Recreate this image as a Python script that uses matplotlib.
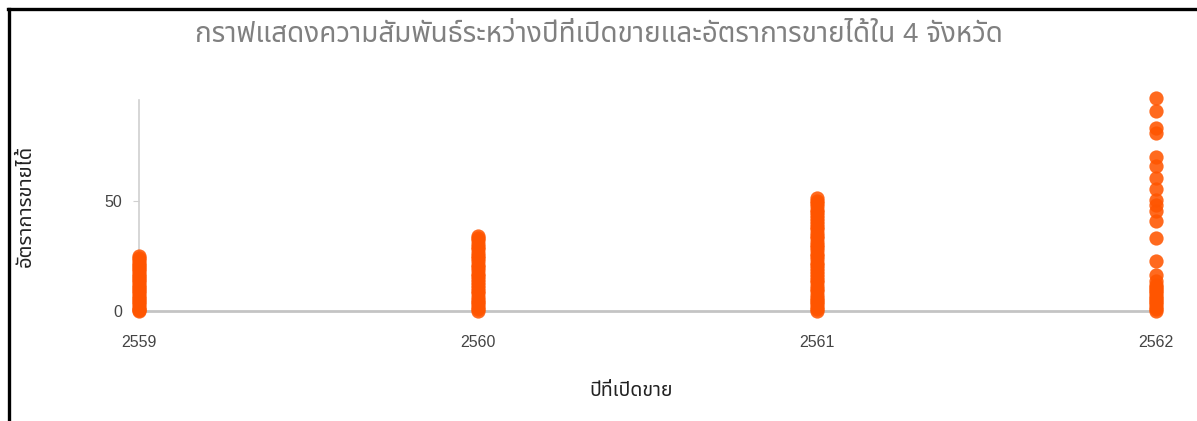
import matplotlib
matplotlib.use('Agg')
import matplotlib.pyplot as plt
from matplotlib.lines import Line2D

# Thai text needs a Thai font; Liberation Sans (Arial-like) for the digits
plt.rcParams['font.family'] = ['Liberation Sans', 'Noto Sans Thai', 'Anuphan', 'DejaVu Sans']

years = [2559, 2560, 2561, 2562]
rate_2559 = [0, 0.5, 1, 2, 3, 4, 5, 6, 7, 8, 9, 10, 11, 12, 13, 14, 15, 16, 17, 18, 19, 20, 21, 22, 23, 24, 25]
rate_2560 = [0, 1, 2, 3, 4, 5, 6.5, 8, 9, 10.5, 12, 13, 14.5, 16, 17, 18.5, 20, 21, 22.5, 24, 25,
             26.5, 28, 29, 30.5, 32, 33, 34]
rate_2561 = [0, 1, 2, 3, 4, 5, 6, 7.5, 9, 10, 11.5, 13, 14, 15.5, 17, 18, 19.5, 21, 22, 23.5, 25, 26,
             27.5, 29, 30, 31.5, 33, 34, 35.5, 37, 38, 39.5, 41, 42, 43.5, 45, 46, 47.5, 49, 50, 51]
rate_2562 = [0, 1, 2, 3, 4, 5, 6, 7, 8, 9, 10, 11, 12, 13.8, 16.5, 22.9, 33.1, 40.6, 45.5, 48.2, 50.5,
             55.4, 60.3, 65.5, 70.0, 80.6, 82.9, 90.7, 96.5]
rates = [rate_2559, rate_2560, rate_2561, rate_2562]

title = 'กราฟแสดงความสัมพันธ์ระหว่างปีที่เปิดขายและอัตราการขายได้ใน 4 จังหวัด'
xlab = 'ปีที่เปิดขาย'
ylab = 'อัตราการขายได้'

fig = plt.figure(figsize=(11.97, 4.21), dpi=100)
ax = fig.add_axes([0.116, 0.261, 0.85, 0.501])

for yr, vals in zip(years, rates):
    ax.scatter([yr] * len(vals), vals, s=105, color='#ff5500', alpha=0.88,
               linewidths=0, clip_on=False, zorder=3)

ax.set_xlim(2559, 2562)
ax.set_ylim(0, 95.5)
ax.set_xticks(years)
ax.set_xticklabels([str(y) for y in years])
ax.set_yticks([0, 50])

for s in ['top', 'right']:
    ax.spines[s].set_visible(False)
ax.spines['left'].set_color('#d0d0d0')
ax.spines['left'].set_linewidth(1.2)
ax.spines['bottom'].set_color('#c4c4c4')
ax.spines['bottom'].set_linewidth(2)
ax.tick_params(axis='x', length=0, pad=17, labelsize=11.5, labelcolor='#444444')
ax.tick_params(axis='y', length=4, width=0.8, color='#d0d0d0', pad=8, labelsize=11.5, labelcolor='#444444')

fig.text(0.5, 0.917, title, ha='center', va='center', fontsize=20, color='#808080')
fig.text(0.527, 0.071, xlab, ha='center', va='center', fontsize=14, color='#222222')
fig.text(0.021, 0.51, ylab, ha='center', va='center', rotation=90, fontsize=14.5, color='#222222')

# black frame on the left and top edges of the screenshot
fig.add_artist(Line2D([0.0075, 0.0075], [0, 0.978], transform=fig.transFigure, color='black', lw=2.4))
fig.add_artist(Line2D([0.0065, 1.0], [0.978, 0.978], transform=fig.transFigure, color='black', lw=2.4))

fig.savefig('out.png', dpi=100)
